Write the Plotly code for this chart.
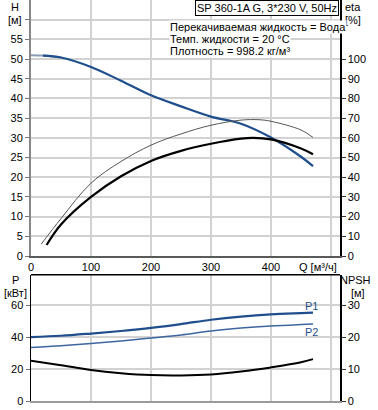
import plotly.graph_objects as go

# ---------------- data ----------------
Q_H = [0, 20, 50, 100, 150, 200, 250, 300, 350, 400, 450, 470]
H_vals = [51, 50.9, 50.4, 48.0, 44.5, 40.8, 38.0, 35.4, 33.6, 30.1, 25.2, 22.8]

Q_eta_total = [17, 50, 100, 150, 200, 250, 300, 350, 380, 400, 450, 470]
eta_total = [6, 19, 37, 48, 56.3, 62, 66.4, 69, 69.2, 68.4, 64.0, 60.2]

Q_eta_pump = [26, 50, 100, 150, 200, 250, 300, 350, 370, 400, 450, 470]
eta_pump = [5.6, 16, 30, 40.5, 48.3, 53.4, 57, 59.6, 60, 59.2, 54.6, 51.7]

Q_low = [0, 50, 100, 150, 200, 250, 300, 350, 400, 450, 470]
P1_vals = [40, 40.8, 42.2, 43.8, 45.7, 48.1, 50.8, 52.8, 54.2, 55.0, 55.3]
P2_vals = [33.5, 34.6, 36.0, 37.6, 39.4, 41.3, 43.8, 45.6, 46.9, 47.8, 48.1]
NPSH_vals = [12.6, 11.2, 9.7, 8.7, 8.1, 8.0, 8.3, 9.2, 10.5, 12.1, 13.1]

Q_ticks = [0, 100, 200, 300, 400, 500]
Q_ticktext = ["0", "100", "200", "300", "400", ""]
H_ticks = list(range(0, 65, 5))
eta_ticks = list(range(0, 110, 10))
P_ticks = [0, 20, 40, 60]
NPSH_ticks = [0, 10, 20, 30]

title_text = "SP 360-1A G, 3*230 V, 50Hz"
info_lines = ["Перекачиваемая жидкость = Вода",
              "Темп. жидкости = 20 °C",
              "Плотность = 998.2 кг/м³"]

# ---------------- figure ----------------
W, Hh = 378, 410
FONT = "Arial, Liberation Sans, sans-serif"
BLUE = "#1f4e8c"
GRID = "#d2d2d2"

def px(x):
    return x / W

def py(y):
    return 1 - y / Hh

fig = go.Figure()

# top plot
fig.add_trace(go.Scatter(x=Q_eta_total, y=eta_total, xaxis="x", yaxis="y2",
                         mode="lines", line=dict(color="#555555", width=1, shape="spline"),
                         hoverinfo="skip"))
fig.add_trace(go.Scatter(x=Q_eta_pump, y=eta_pump, xaxis="x", yaxis="y2",
                         mode="lines", line=dict(color="#000000", width=2.2, shape="spline"),
                         hoverinfo="skip"))
fig.add_trace(go.Scatter(x=Q_H[:3], y=H_vals[:3], xaxis="x", yaxis="y",
                         mode="lines", line=dict(color="#8a9cb5", width=2, shape="spline"),
                         hoverinfo="skip"))
fig.add_trace(go.Scatter(x=Q_H[1:], y=H_vals[1:], xaxis="x", yaxis="y",
                         mode="lines", line=dict(color=BLUE, width=2.2, shape="spline"),
                         hoverinfo="skip"))

# bottom plot
fig.add_trace(go.Scatter(x=Q_low, y=P2_vals, xaxis="x2", yaxis="y3",
                         mode="lines", line=dict(color="#3d669f", width=1.5, shape="spline"),
                         hoverinfo="skip"))
fig.add_trace(go.Scatter(x=Q_low, y=P1_vals, xaxis="x2", yaxis="y3",
                         mode="lines", line=dict(color=BLUE, width=2.2, shape="spline"),
                         hoverinfo="skip"))
fig.add_trace(go.Scatter(x=Q_low, y=NPSH_vals, xaxis="x2", yaxis="y4",
                         mode="lines", line=dict(color="#000000", width=2, shape="spline"),
                         hoverinfo="skip"))

xdom = [px(31), px(340)]
top_dom = [py(256), 1.0]
bot_dom = [py(401), py(274.7)]
tickfont = dict(family=FONT, size=11, color="#000000")

fig.update_layout(
    width=W, height=Hh, autosize=False,
    margin=dict(l=0, r=0, t=0, b=0, autoexpand=False),
    paper_bgcolor="white", plot_bgcolor="white",
    showlegend=False,
    font=dict(family=FONT, size=11, color="#000000"),
    xaxis=dict(domain=xdom, range=[0, 515], anchor="y", automargin=False,
               tickvals=Q_ticks, ticktext=Q_ticktext, tickfont=tickfont,
               showgrid=True, gridcolor=GRID, gridwidth=2, zeroline=False,
               showline=True, linecolor="#5a5a5a", linewidth=2, ticks=""),
    yaxis=dict(domain=top_dom, range=[0, 65], anchor="x", automargin=False,
               tickvals=H_ticks, ticktext=[str(v) if v < 60 else "" for v in H_ticks],
               tickfont=tickfont, showgrid=True, gridcolor=GRID, gridwidth=2, zeroline=False,
               showline=True, linecolor="#888888", linewidth=2,
               ticks="outside", ticklen=4, tickcolor="#777777", tickwidth=1),
    yaxis2=dict(overlaying="y", side="right", anchor="x", range=[0, 130], automargin=False,
                tickvals=eta_ticks, tickfont=tickfont, showgrid=False, zeroline=False,
                showline=True, linecolor="#000000", linewidth=1.5,
                ticks="outside", ticklen=4, tickcolor="#333333", tickwidth=1),
    xaxis2=dict(domain=xdom, range=[0, 515], anchor="y3", automargin=False,
                tickvals=Q_ticks, showticklabels=False,
                showgrid=True, gridcolor=GRID, gridwidth=2, zeroline=False,
                showline=True, linecolor="#9a9a9a", linewidth=2, ticks=""),
    yaxis3=dict(domain=bot_dom, range=[0, 79], anchor="x2", automargin=False,
                tickvals=P_ticks, tickfont=tickfont,
                showgrid=True, gridcolor=GRID, gridwidth=2, zeroline=False,
                showline=True, linecolor="#000000", linewidth=1.5,
                ticks="outside", ticklen=4, tickcolor="#777777", tickwidth=1),
    yaxis4=dict(overlaying="y3", side="right", anchor="x2", range=[0, 39.5], automargin=False,
                tickvals=NPSH_ticks, tickfont=tickfont, showgrid=False, zeroline=False,
                showline=True, linecolor="#000000", linewidth=1.5,
                ticks="outside", ticklen=4, tickcolor="#333333", tickwidth=1),
)

# top border of bottom plot
fig.add_shape(type="line", xref="paper", yref="paper",
              x0=px(31), x1=px(340), y0=py(274.7), y1=py(274.7),
              line=dict(color="#000000", width=1.5))

def ann(text, x, y, xanchor="center", color="#000000", **kw):
    fig.add_annotation(text=text, x=px(x), y=py(y), xref="paper", yref="paper",
                       xanchor=xanchor, yanchor="middle", showarrow=False,
                       font=dict(family=FONT, size=11, color=color), **kw)

# axis titles
ann("H", 15, 7)
ann("[м]", 15, 20)
ann("eta", 353, 7)
ann("[%]", 353, 20)
ann("P", 15, 280)
ann("[кВт]", 15, 293)
ann("NPSH", 355, 280)
ann("[м]", 358, 293)
ann("Q [м³/ч]", 318, 267)

# title box
fig.add_annotation(text=title_text, x=px(339), y=py(8), xref="paper", yref="paper",
                   xanchor="right", yanchor="middle", showarrow=False,
                   font=dict(family=FONT, size=11, color="#000000"),
                   bordercolor="#000000", borderwidth=1, borderpad=1, bgcolor="white")

# info text
for i, line in enumerate(info_lines):
    ann(line, 169, 27 + i * 12, xanchor="left", bgcolor="white", borderpad=0)

# curve labels
ann("P1", 311, 306, color=BLUE)
ann("P2", 311, 331.5, color=BLUE)

fig.write_html("out.html",
               config={"displayModeBar": False, "staticPlot": True},
               post_script="document.body.style.margin='0px';document.body.style.overflow='hidden';")
